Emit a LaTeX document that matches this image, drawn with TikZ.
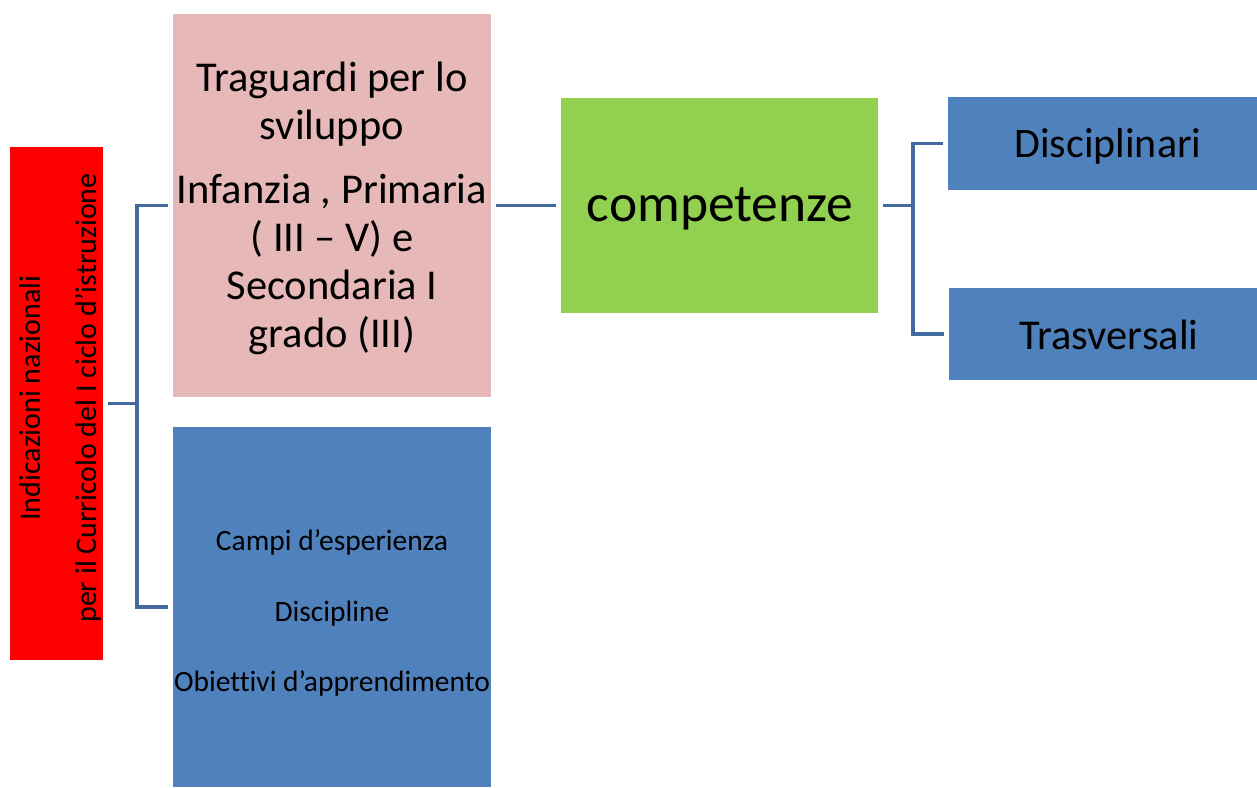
\documentclass[tikz,border=0pt]{standalone}
\usepackage{fontspec}
\setmainfont{Carlito}[Ligatures=NoCommon]
\definecolor{redbox}{RGB}{255,0,0}
\definecolor{pinkbox}{RGB}{230,185,184}
\definecolor{bluebox}{RGB}{79,129,189}
\definecolor{greenbox}{RGB}{146,208,80}
\definecolor{connc}{RGB}{67,106,160}
\begin{document}
\begin{tikzpicture}[x=1pt,y=-1pt,
  box/.style={rectangle,inner sep=0pt,outer sep=5pt,align=center,text=black},
  lbl/.style={align=center,text=black,inner sep=0pt},
  conn/.style={draw=connc,line width=3.8pt,line join=miter}]
\useasboundingbox (0,0) rectangle (1257,787);
% boxes
\node[box,fill=redbox,minimum width=93pt,minimum height=513pt] (red) at (56.5,403.5) {};
\node[lbl,rotate=90,font=\fontsize{30}{56}\selectfont] (redtxt) at (61,398) {Indicazioni nazionali\\per il Curricolo del I ciclo d’istruzione};
\node[box,fill=pinkbox,minimum width=318pt,minimum height=383pt] (pink) at (332,205.5) {};
\node[lbl,font=\fontsize{42.5}{48}\selectfont] (pinktxt) at (332,208.5) {Traguardi per lo\\sviluppo\\[16pt]Infanzia , Primaria\\( III – V) e\\Secondaria I\\grado (III)};
\node[box,fill=bluebox,minimum width=318pt,minimum height=360pt] (blue) at (332,607) {};
\node[lbl,font=\fontsize{29.5}{70.5}\selectfont] (bluetxt) at (332,613) {Campi d’esperienza\\Discipline\\Obiettivi d’apprendimento};
\node[box,fill=greenbox,minimum width=317pt,minimum height=215pt] (green) at (719.5,205.5) {};
\node[lbl,font=\fontsize{53.5}{60}\selectfont] (greentxt) at (720,208.5) {competenze};
\node[box,fill=bluebox,minimum width=309pt,minimum height=93pt] (disc) at (1102.5,143.5) {};
\node[lbl,font=\fontsize{42}{46}\selectfont] (disctxt) at (1108,146) {Disciplinari};
\node[box,fill=bluebox,minimum width=308pt,minimum height=92pt] (tras) at (1103,334) {};
\node[lbl,font=\fontsize{42.5}{46}\selectfont] (trastxt) at (1109,335) {Trasversali};
% junctions
\coordinate (j1) at (137,403.5);
\coordinate (j2) at (913,205.5);
% connectors
\draw[conn] (red.east) -- (j1);
\draw[conn] (pink.west) -| (j1) |- (blue.west);
\draw[conn] (pink.east) -- (green.west);
\draw[conn,line width=3.2pt] (green.east) -- (j2);
\draw[conn,line width=3.2pt] (disc.west) -| (j2) |- (tras.west);
\end{tikzpicture}
\end{document}
